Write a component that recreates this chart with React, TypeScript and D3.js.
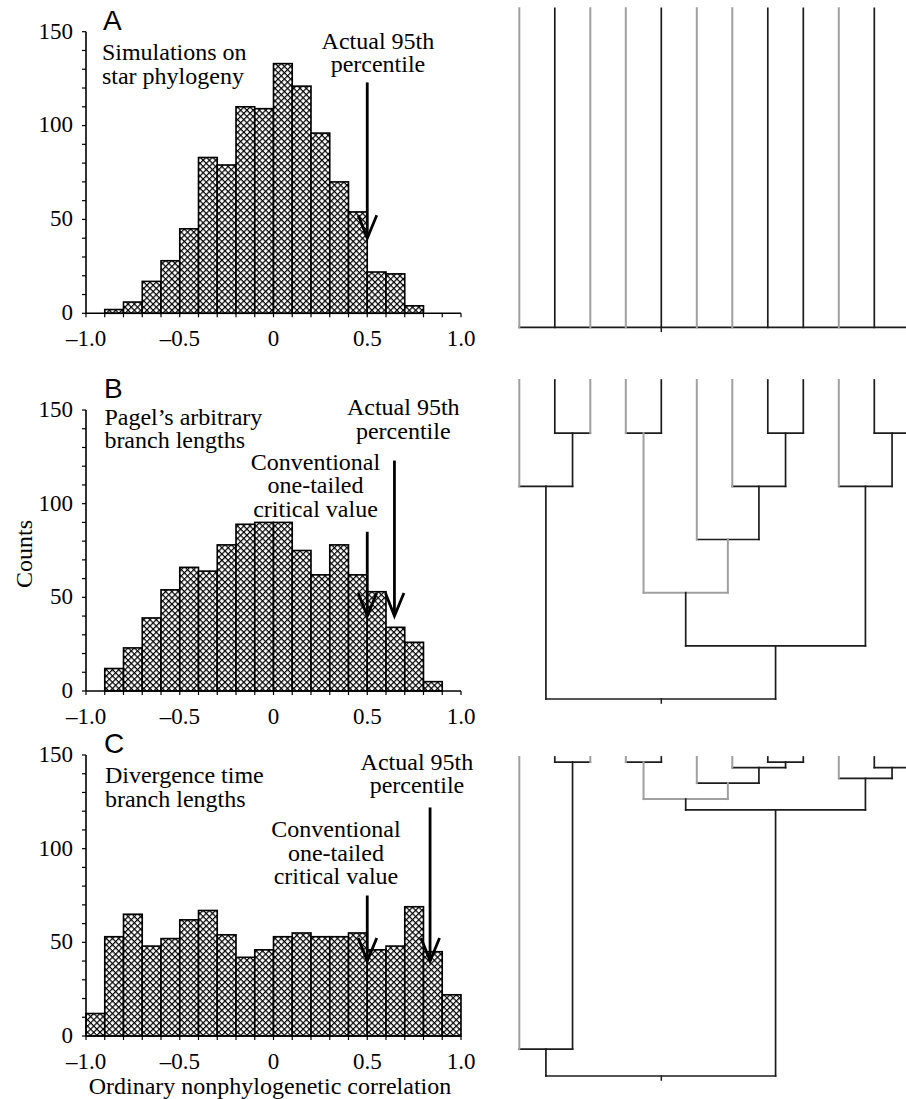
import * as d3 from "d3"

// ---- histogram data (bin left edges + counts, bin width 0.1) ----
const binsA = [-0.9, -0.8, -0.7, -0.6, -0.5, -0.4, -0.3, -0.2, -0.1, 0, 0.1, 0.2, 0.3, 0.4, 0.5, 0.6, 0.7]
const countsA = [2, 6, 17, 28, 45, 83, 79, 110, 109, 133, 121, 96, 70, 54, 22, 21, 4]

const binsB = [-0.9, -0.8, -0.7, -0.6, -0.5, -0.4, -0.3, -0.2, -0.1, 0, 0.1, 0.2, 0.3, 0.4, 0.5, 0.6, 0.7, 0.8]
const countsB = [12, 23, 39, 54, 66, 64, 78, 89, 90, 90, 75, 62, 78, 62, 53, 34, 26, 5]

const binsC = [-1.0, -0.9, -0.8, -0.7, -0.6, -0.5, -0.4, -0.3, -0.2, -0.1, 0, 0.1, 0.2, 0.3, 0.4, 0.5, 0.6, 0.7, 0.8, 0.9]
const countsC = [12, 53, 65, 48, 52, 62, 67, 54, 42, 46, 53, 55, 53, 53, 55, 46, 48, 69, 45, 22]

const binWidth = 0.1

const xTickValues = [-1, -0.5, 0, 0.5, 1]
const xTickLabels = ["\u20131.0", "\u20130.5", "0", "0.5", "1.0"]
const yTickValues = [0, 50, 100, 150]

// arrows: x position, count at tail, count at head
const arrowsA = [{ x: 0.5, from: 123, to: 40 }]
const arrowsB = [
  { x: 0.5, from: 85, to: 40 },
  { x: 0.645, from: 123, to: 40 },
]
const arrowsC = [
  { x: 0.5, from: 75, to: 40 },
  { x: 0.835, from: 122, to: 40 },
]

// notes: anchor in data coords (x, count at first baseline)
const notesA = [
  { x: -0.915, y: 134.8, anchor: "start", lines: ["Simulations on", "star phylogeny"] },
  { x: 0.557, y: 140.9, anchor: "middle", lines: ["Actual 95th", "percentile"] },
]
const notesB = [
  { x: -0.902, y: 142, anchor: "start", lines: ["Pagel\u2019s arbitrary", "branch lengths"] },
  { x: 0.692, y: 147.3, anchor: "middle", lines: ["Actual 95th", "percentile"] },
  { x: 0.224, y: 118, anchor: "middle", lines: ["Conventional", "one-tailed", "critical value"] },
]
const notesC = [
  { x: -0.899, y: 134.9, anchor: "start", lines: ["Divergence time", "branch lengths"] },
  { x: 0.765, y: 142, anchor: "middle", lines: ["Actual 95th", "percentile"] },
  { x: 0.333, y: 106, anchor: "middle", lines: ["Conventional", "one-tailed", "critical value"] },
]

// ---- tree data ----
const tipIds = ["t1", "t2", "t3", "t4", "t5", "t6", "t7", "t8", "t9", "t10", "t11", "t12"]
const nodeIds = ["n23", "n123", "n45", "n89", "n789", "n6789", "n4to9", "n1112", "n10to12", "n4to12", "root"]
const nodeKids = [
  ["t2", "t3"],
  ["t1", "n23"],
  ["t4", "t5"],
  ["t8", "t9"],
  ["t7", "n89"],
  ["t6", "n789"],
  ["n45", "n6789"],
  ["t11", "t12"],
  ["t10", "n1112"],
  ["n4to9", "n10to12"],
  ["n123", "n4to12"],
]
const pagelHeights = [1, 2, 1, 1, 2, 3, 4, 1, 2, 5, 6]
const divergenceHeights = [0.016, 0.916, 0.016, 0.016, 0.033, 0.082, 0.132, 0.033, 0.067, 0.166, 1]
const grayBranches = ["t1", "t3", "t4", "t6", "t7", "t10", "n45", "n6789"]
const rootTickTip = "t5"

// ---- layout ----
const W = 906
const H = 1099
const SERIF = "'Liberation Serif', 'Times New Roman', Times, serif"
const SANS = "'Liberation Sans', Arial, Helvetica, sans-serif"
const FS = 24
const TICK_FS = 23
const LINE = 23.5
const X0 = 86
const X1 = 461
const GRAY = "#a0a0a0"
const DARK = "#1c1c1c"

const panels = [
  { label: "A", labelX: 103, labelY: 30, y0: 313.3, y150: 31.7, bins: binsA, counts: countsA, arrows: arrowsA, notes: notesA },
  { label: "B", labelX: 104, labelY: 398, y0: 691, y150: 410, bins: binsB, counts: countsB, arrows: arrowsB, notes: notesB },
  { label: "C", labelX: 104, labelY: 753, y0: 1036, y150: 755, bins: binsC, counts: countsC, arrows: arrowsC, notes: notesC },
]

const trees = [
  { top: 8.3, star: true, heights: [] as number[] },
  { top: 380, star: false, heights: pagelHeights },
  { top: 757, star: false, heights: divergenceHeights },
]
const TREE_H = 319

const xScale = d3.scaleLinear().domain([-1, 1]).range([X0, X1])
const tipX = d3.scalePoint<string>().domain(tipIds).range([519.3, 909.8])

function Histogram({ p }: { p: (typeof panels)[number] }) {
  const y = d3.scaleLinear().domain([0, 150]).range([p.y0, p.y150])
  const arrowHead = d3.line()
  return (
    <g>
      <text x={p.labelX} y={p.labelY} fontFamily={SANS} fontSize={28}>
        {p.label}
      </text>
      {p.bins.map((b, i) => (
        <rect
          key={i}
          x={xScale(b)}
          y={y(p.counts[i])}
          width={xScale(b + binWidth) - xScale(b)}
          height={y(0) - y(p.counts[i])}
          fill="url(#hatch)"
          stroke="#000"
          strokeWidth={1.6}
        />
      ))}
      {/* axes */}
      <line x1={X0} x2={X0} y1={y(0)} y2={y(150)} stroke="#000" strokeWidth={1.6} />
      <line x1={X0} x2={X1} y1={y(0)} y2={y(0)} stroke="#000" strokeWidth={1.6} />
      {y.ticks(15).map((t) => (
        <line key={"yt" + t} x1={X0 - 4} x2={X0} y1={y(t)} y2={y(t)} stroke="#000" strokeWidth={1.2} />
      ))}
      {xScale.ticks(20).map((t) => (
        <line key={"xt" + t} x1={xScale(t)} x2={xScale(t)} y1={y(0)} y2={y(0) + 4} stroke="#000" strokeWidth={1.2} />
      ))}
      {yTickValues.map((t) => (
        <text key={"yl" + t} x={X0 - 13} y={y(t)} dy="0.3em" textAnchor="end" fontFamily={SERIF} fontSize={TICK_FS}>
          {t}
        </text>
      ))}
      {xTickValues.map((t, i) => (
        <text key={"xl" + t} x={xScale(t)} y={y(0) + 32.5} textAnchor="middle" fontFamily={SERIF} fontSize={TICK_FS}>
          {xTickLabels[i]}
        </text>
      ))}
      {/* notes */}
      {p.notes.map((n, i) => (
        <text key={"n" + i} fontFamily={SERIF} fontSize={FS} textAnchor={n.anchor as any}>
          {n.lines.map((l, j) => (
            <tspan key={j} x={xScale(n.x)} y={y(n.y) + j * LINE}>
              {l}
            </tspan>
          ))}
        </text>
      ))}
      {/* arrows */}
      {p.arrows.map((a, i) => {
        const ax = xScale(a.x)
        const ay = y(a.to)
        return (
          <g key={"a" + i} stroke="#000" strokeWidth={2.8} fill="none">
            <line x1={ax} x2={ax} y1={y(a.from)} y2={ay} />
            <path
              d={
                arrowHead([
                  [ax - 9, ay - 23],
                  [ax, ay],
                  [ax + 9.5, ay - 23],
                ]) ?? ""
              }
            />
          </g>
        )
      })}
    </g>
  )
}

type TNode = d3.HierarchyNode<string> & { px?: number; py?: number }

function Tree({ t }: { t: (typeof trees)[number] }) {
  const kids: Record<string, string[]> = {}
  const heights: Record<string, number> = {}
  if (t.star) {
    kids["root"] = tipIds
    heights["root"] = 1
  } else {
    nodeIds.forEach((id, i) => {
      kids[id] = nodeKids[i]
      heights[id] = t.heights[i]
    })
  }
  const rootH = heights["root"]
  const y = d3.scaleLinear().domain([0, rootH]).range([t.top, t.top + TREE_H])
  const root = d3.hierarchy<string>("root", (id) => kids[id]) as TNode
  root.eachAfter((n: TNode) => {
    n.px = n.children ? d3.mean(n.children as TNode[], (c) => c.px) : tipX(n.data)
    n.py = y(heights[n.data] ?? 0)
  })
  const isGray = (id: string) => grayBranches.includes(id)
  const inner = (root.descendants() as TNode[]).filter((n) => n.children)
  const segs = (root.descendants() as TNode[]).filter((n) => n.parent)
  const rx = tipX(rootTickTip) ?? 0
  const ry = y(rootH)
  return (
    <g fill="none" strokeLinecap="square">
      {/* horizontal connectors: gray only when every child branch is gray */}
      {inner.map((n) => {
        const ch = n.children as TNode[]
        const gray = ch.every((c) => isGray(c.data))
        const xs = ch.map((c) => c.px as number)
        return (
          <line
            key={"h" + n.data}
            x1={d3.min(xs)}
            x2={d3.max(xs)}
            y1={n.py}
            y2={n.py}
            stroke={gray ? GRAY : DARK}
            strokeWidth={gray ? 2 : 1.7}
          />
        )
      })}
      {segs.map((n) => {
        const par = n.parent as TNode
        const gray = isGray(n.data)
        return (
          <line
            key={n.data}
            x1={n.px}
            x2={n.px}
            y1={n.py}
            y2={par.py}
            stroke={gray ? GRAY : DARK}
            strokeWidth={gray ? 2 : 1.7}
          />
        )
      })}
      <line x1={rx} x2={rx} y1={ry} y2={ry + 4} stroke={DARK} strokeWidth={1.5} />
    </g>
  )
}

export default function App() {
  const hs = 4.42
  const lw = 1.2
  return (
    <div style={{ position: "absolute", left: 0, top: 0 }}>
      <svg width={W} height={H} viewBox={`0 0 ${W} ${H}`} style={{ display: "block", background: "#fff" }}>
        <defs>
          <pattern id="hatch" width={hs} height={hs} patternUnits="userSpaceOnUse" patternTransform="rotate(45)">
            <rect width={hs} height={hs} fill="#fff" />
            <rect x={0} y={0} width={hs} height={lw} fill="#000" />
            <rect x={0} y={0} width={lw} height={hs} fill="#000" />
          </pattern>
        </defs>
        <rect width={W} height={H} fill="#fff" />
        {panels.map((p) => (
          <Histogram key={p.label} p={p} />
        ))}
        {trees.map((t, i) => (
          <Tree key={i} t={t} />
        ))}
        <text
          transform="translate(31.5,554) rotate(-90)"
          textAnchor="middle"
          fontFamily={SERIF}
          fontSize={FS}
        >
          Counts
        </text>
        <text x={270} y={1094} textAnchor="middle" fontFamily={SERIF} fontSize={FS}>
          Ordinary nonphylogenetic correlation
        </text>
      </svg>
    </div>
  )
}
